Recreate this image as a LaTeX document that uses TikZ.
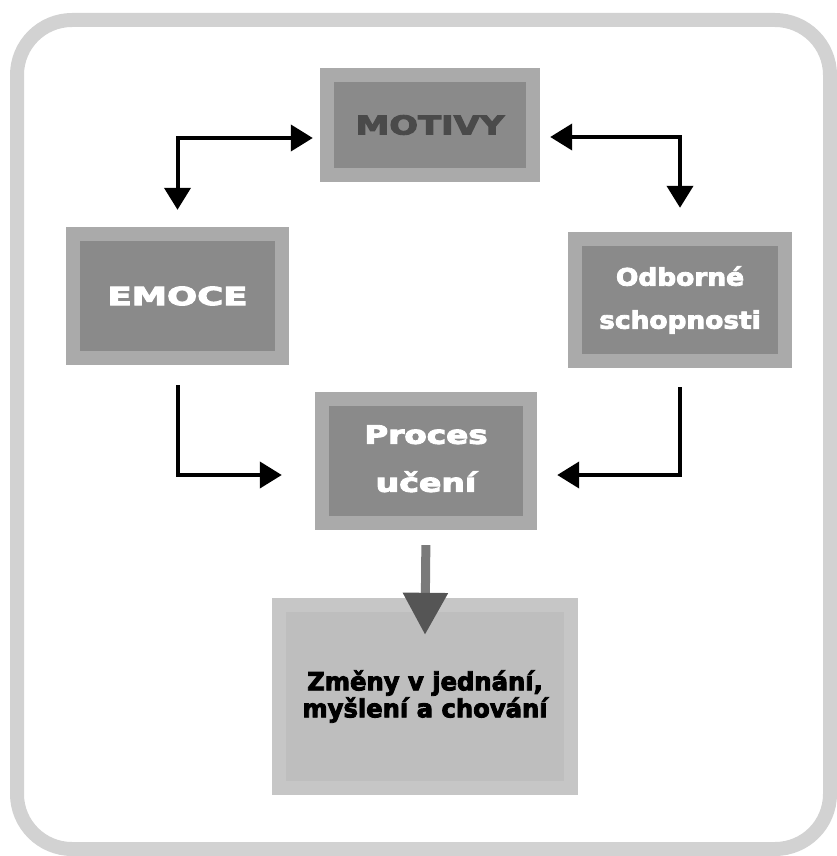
\documentclass[tikz,border=0pt]{standalone}
\usepackage{fontspec}
\setmainfont{DejaVu Sans}[BoldFeatures={FakeBold=3.5}]
\usetikzlibrary{arrows.meta}
\definecolor{boxout}{HTML}{AAAAAA}
\definecolor{boxin}{HTML}{8A8A8A}
\definecolor{lightout}{HTML}{C6C6C6}
\definecolor{lightin}{HTML}{BEBEBE}
\definecolor{framegray}{HTML}{D2D2D2}
\definecolor{motivytext}{HTML}{4A4A4A}
\definecolor{shaftgray}{HTML}{7A7A7A}
\definecolor{headgray}{HTML}{555555}
\newcommand{\sx}[2]{\scalebox{#1}[1]{#2}}
\begin{document}
\begin{tikzpicture}[x=1pt,y=-1pt,
  graybox/.style={fill=boxout, inner sep=0pt, align=center, text=white,
    path picture={\fill[boxin] ([shift={(14pt,-14pt)}]path picture bounding box.north west) rectangle ([shift={(-14pt,14pt)}]path picture bounding box.south east);}},
  lightbox/.style={fill=lightout, inner sep=0pt, align=center, text=black,
    path picture={\fill[lightin] ([shift={(14pt,-14pt)}]path picture bounding box.north west) rectangle ([shift={(-14pt,14pt)}]path picture bounding box.south east);}},
  tip/.tip={Triangle[width=26pt,length=22pt]},
  link/.style={line width=4pt, black, -tip},
  link2/.style={line width=4pt, black, tip-tip},
  bigarrow/.style={line width=9pt, shaftgray, -{Triangle[width=43pt,length=42pt,color=headgray,fill=headgray]}}
]
\useasboundingbox (0,0) rectangle (837,856);
\draw[framegray, line width=14pt, rounded corners=55pt] (17,20) rectangle (830,849);

\node[graybox, minimum width=220pt, minimum height=114pt, text=motivytext,
  font=\bfseries\fontsize{26}{30}\selectfont] (motivy) at (430,125) {\sx{1.3}{MOTIVY}};
\node[graybox, minimum width=223pt, minimum height=138pt,
  font=\bfseries\fontsize{25}{30}\selectfont] (emoce) at (177.5,296) {\sx{1.42}{EMOCE}};
\node[graybox, minimum width=224pt, minimum height=136pt,
  font=\bfseries\fontsize{24}{43}\selectfont] (odb) at (680,300) {\sx{1.1}{Odborné}\\\sx{1.1}{schopnosti}};
\node[graybox, minimum width=222pt, minimum height=138pt,
  font=\bfseries\fontsize{25.5}{48}\selectfont] (proces) at (426,461) {\raisebox{5pt}{\sx{1.28}{Proces}}\\\raisebox{5pt}{\sx{1.3}{učení}}};
\node[lightbox, minimum width=306pt, minimum height=197pt,
  font=\bfseries\fontsize{25}{27}\selectfont] (zmeny) at (425,696.5) {\sx{0.97}{Změny v jednání,}\\\sx{0.97}{myšlení a chování}};

\draw[link2, shorten <=7pt, shorten >=17pt] ([yshift=-13pt]motivy.west) -| (emoce.north);
\draw[link2, shorten <=10pt, shorten >=24pt] ([yshift=-12pt]motivy.east) -| (odb.north);
\draw[link, shorten <=20pt, shorten >=33pt] (emoce.south) |- ([yshift=-14pt]proces.west);
\draw[link, shorten <=19pt, shorten >=20pt] (odb.south) |- ([yshift=-14pt]proces.east);

\coordinate (bigtip) at ([yshift=-37pt]zmeny.north);
\draw[bigarrow, shorten <=15pt] (proces.south) -- (bigtip);
\end{tikzpicture}
\end{document}
